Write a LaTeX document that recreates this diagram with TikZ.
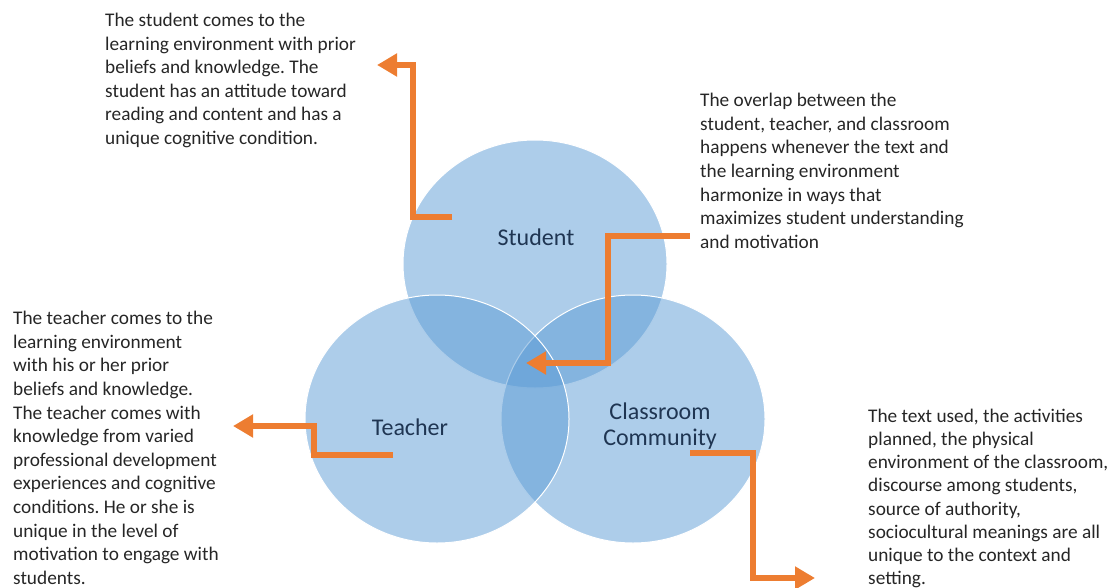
\documentclass[tikz,border=0pt]{standalone}
\usepackage{fontspec}
\setmainfont{Carlito}
\frenchspacing
\usetikzlibrary{arrows.meta,shapes.geometric}
\definecolor{vennblue}{HTML}{5B9BD5}
\definecolor{callorange}{HTML}{ED7D31}
\definecolor{labelnavy}{HTML}{1F3552}
\definecolor{bodygray}{HTML}{262626}
\tikzset{
  venn/.style={ellipse,inner sep=0pt,minimum width=264pt,minimum height=248pt,
    fill=vennblue,fill opacity=0.5,draw=white,line width=1pt},
  vlabel/.style={text=labelnavy,align=center,font=\fontsize{24}{25.5}\selectfont},
  note/.style={anchor=north west,inner sep=0pt,text=bodygray,align=left,
    font=\fontsize{19.3}{23.6}\selectfont},
  callout/.style={draw=callorange,line width=6pt,-{Triangle[length=20pt,width=22pt]}}
}
\begin{document}
\begin{tikzpicture}[x=1pt,y=-1pt]
  \useasboundingbox (0,0) rectangle (1115,588);
  % the three circles
  \node[venn] (student) at (535,264) {};
  \node[venn] (classroom) at (633,419) {};
  \node[venn] (teacher) at (437,419) {};
  \node[vlabel] (stuLabel) at (536,237) {Student};
  \node[vlabel] (teaLabel) at (410,427) {Teacher};
  \node[vlabel] (claLabel) at (660,426) {Classroom\\Community};
  % notes
  \node[note] (stuNote) at (105,13) {The student comes to the\\
    learning environment with prior\\
    beliefs and knowledge. The\\
    student has an attitude toward\\
    reading and content and has a\\
    unique cognitive condition.};
  \node[note] (ovNote) at (700,93) {The overlap between the\\
    student, teacher, and classroom\\
    happens whenever the text and\\
    the learning environment\\
    harmonize in ways that\\
    maximizes student understanding\\
    and motivation};
  \node[note] (teaNote) at (13,311) {The teacher comes to the\\
    learning environment\\
    with his or her prior\\
    beliefs and knowledge.\\
    The teacher comes with\\
    knowledge from varied\\
    professional development\\
    experiences and cognitive\\
    conditions. He or she is\\
    unique in the level of\\
    motivation to engage with\\
    students.};
  \node[note,font=\fontsize{19.3}{23.1}\selectfont] (claNote) at (868,409) {The text used, the activities\\
    planned, the physical\\
    environment of the classroom,\\
    discourse among students,\\
    source of authority,\\
    sociocultural meanings are all\\
    unique to the context and\\
    setting.};
  % callout arrows
  \coordinate (stuFrom) at (452,217);
  \coordinate (stuTo) at (377,65);
  \coordinate (ovFrom) at (690,236);
  \coordinate (ovTo) at (526,363);
  \coordinate (teaFrom) at (393,455);
  \coordinate (teaTo) at (233,426);
  \coordinate (claFrom) at (690,453);
  \coordinate (claTo) at (815,578);
  \draw[callout] (stuFrom) -- ++(-39,0) |- (stuTo);
  \draw[callout] (ovFrom) -- ++(-82,0) |- (ovTo);
  \draw[callout] (teaFrom) -- ++(-79,0) |- (teaTo);
  \draw[callout] (claFrom) -- ++(63,0) |- (claTo);
\end{tikzpicture}
\end{document}
